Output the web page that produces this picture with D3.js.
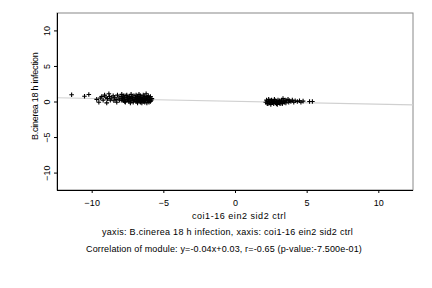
<!DOCTYPE html>
<html>
<head>
<meta charset="utf-8">
<script src="https://cdn.jsdelivr.net/npm/d3@7"></script>
<style>
  body { margin: 0; background: #fff; }
  svg { display: block; font-family: "Liberation Sans", Arial, sans-serif; letter-spacing: 0.15px; }
  .tick text { font-size: 9px; }
</style>
</head>
<body>
<script>
// left cluster (x values / y values)
const leftX = [-11.4, -10.5, -10.2,
  -9.65, -9.5, -9.4, -9.3, -9.2, -9.1, -9.0, -8.95, -8.9, -8.8, -8.75, -8.7, -8.6, -8.5, -8.45, -8.4, -8.3, -8.25, -8.2, -8.1, -8.05,
  -7.95, -7.9, -7.85, -7.8, -7.75, -7.7, -7.65, -7.6, -7.55, -7.5, -7.45, -7.4, -7.35, -7.3, -7.25, -7.2, -7.15, -7.1, -7.05, -7.0,
  -7.9, -7.8, -7.7, -7.6, -7.5, -7.4, -7.3, -7.2, -7.1,
  -6.95, -6.9, -6.9, -6.85, -6.8, -6.8, -6.75, -6.7, -6.7, -6.65, -6.6, -6.6, -6.55, -6.5, -6.5, -6.45, -6.4, -6.4, -6.35, -6.3, -6.3,
  -6.25, -6.2, -6.2, -6.15, -6.1, -6.1, -6.05, -6.0, -6.0, -5.95, -5.9, -5.9, -5.85, -5.8,
  -6.9, -6.7, -6.5, -6.3, -6.1, -5.95, -6.8, -6.6, -6.4, -6.2, -6.0];
const leftY = [0.94, 0.74, 0.98,
  0.3, -0.1, 0.5, 0.7, 0.2, 0.9, 0.6, -0.2, 0.4, 1.1, 0.7, 0.2, 0.5, 0.8, 0.1, 0.6, 0.3, -0.1, 0.9, 0.5, 0.2,
  0.7, 1.0, 0.4, 0.1, 0.8, 0.5, -0.1, 0.3, 0.9, 0.6, 0.2, 0.0, 0.7, 0.4, 1.0, 0.1, 0.5, -0.1, 0.8, 0.3,
  0.2, 0.6, 0.0, 0.8, 0.3, 0.5, -0.2, 0.6, 0.2,
  0.6, 0.0, 0.9, 0.3, -0.2, 0.7, 0.4, 0.1, 1.0, 0.5, -0.1, 0.8, 0.2, 0.6, -0.2, 0.3, 0.9, 0.0, 0.5, -0.1, 0.7,
  0.2, 0.4, 1.1, -0.2, 0.6, 0.1, 0.8, 0.3, -0.1, 0.5, 0.0, 0.7, 0.2, 0.4,
  0.1, 0.3, 0.4, 0.2, 0.3, 0.1, 0.5, 0.0, 0.2, 0.5, 0.1];

// right cluster
const rightX = [2.15, 2.2, 2.25, 2.3, 2.35, 2.4, 2.45, 2.5, 2.55, 2.6, 2.65, 2.7, 2.75, 2.8, 2.85, 2.9, 2.95, 3.0, 3.05, 3.1,
  3.15, 3.2, 3.25, 3.3, 3.35, 3.4, 3.45, 3.5, 3.55, 3.6, 3.7, 3.75, 3.8, 3.9, 4.0, 4.1, 4.2, 4.35, 4.5, 4.6, 4.75, 5.2, 5.4,
  2.3, 2.5, 2.7, 2.9, 3.1, 3.3];
const rightY = [-0.1, 0.2, -0.3, 0.0, 0.3, -0.2, 0.1, -0.4, 0.2, -0.1, 0.0, -0.3, 0.3, 0.1, -0.2, 0.0, -0.4, 0.2, -0.1, 0.1,
  -0.3, 0.0, 0.2, -0.2, 0.4, 0.0, -0.1, 0.2, -0.2, 0.1, 0.3, -0.1, 0.1, 0.0, 0.2, -0.1, 0.1, 0.0, 0.1, -0.1, 0.05, 0.0, 0.0,
  -0.3, -0.2, -0.1, -0.3, -0.2, -0.3];

const xTicks = [-10, -5, 0, 5, 10];
const yTicks = [-10, -5, 0, 5, 10];
const slope = -0.04, intercept = 0.03;
const xTitle = "coi1-16 ein2 sid2 ctrl";
const yTitle = "B.cinerea 18 h infection";
const sub1 = "yaxis: B.cinerea 18 h infection, xaxis: coi1-16 ein2 sid2 ctrl";
const sub2 = "Correlation of module: y=-0.04x+0.03, r=-0.65 (p-value:-7.500e-01)";

const W = 432, H = 288;
const box = {left: 57, right: 413, top: 13, bottom: 190};

const x = d3.scaleLinear().domain([-12.42, 12.42]).range([box.left, box.right]);
const y = d3.scaleLinear().domain([-12.45, 12.45]).range([box.bottom, box.top]);

const svg = d3.select("body").append("svg").attr("width", W).attr("height", H);

// frame
svg.append("rect")
  .attr("x", box.left).attr("y", box.top)
  .attr("width", box.right - box.left).attr("height", box.bottom - box.top)
  .attr("fill", "none").attr("stroke", "#888").attr("stroke-width", 1);

// regression line
svg.append("line")
  .attr("x1", x(-12.42)).attr("y1", y(slope * -12.42 + intercept))
  .attr("x2", x(12.42)).attr("y2", y(slope * 12.42 + intercept))
  .attr("stroke", "#d0d0d0").attr("stroke-width", 1.2);

// points
const pts = leftX.map((v, i) => [v, leftY[i]]).concat(rightX.map((v, i) => [v, rightY[i]]));
svg.append("g").selectAll("path")
  .data(pts).enter()
  .append("path")
  .attr("d", d => {
    const cx = x(d[0]), cy = y(d[1]);
    return `M${cx - 2.3},${cy}H${cx + 2.3}M${cx},${cy - 2.3}V${cy + 2.3}`;
  })
  .attr("stroke", "#000").attr("stroke-width", 1.1);

// axes
const xAxis = svg.append("g")
  .attr("transform", "translate(0," + box.bottom + ")")
  .call(d3.axisBottom(x).tickValues(xTicks).tickSize(3).tickSizeOuter(0).tickPadding(7));
xAxis.select(".domain").attr("d", `M${box.left},0.5H${box.right}`);

const yAxis = svg.append("g")
  .attr("transform", "translate(" + box.left + ",0)")
  .call(d3.axisLeft(y).tickValues(yTicks).tickSize(3).tickSizeOuter(0));
yAxis.select(".domain").attr("d", `M0.5,${box.top}V${box.bottom}`);
yAxis.selectAll(".tick text")
  .attr("x", null).attr("dy", null)
  .attr("transform", "translate(-7,0) rotate(-90)")
  .attr("text-anchor", "middle");

// titles
svg.append("text").attr("x", 192).attr("y", 219)
  .attr("font-size", 9).attr("textLength", 94).attr("lengthAdjust", "spacing").text(xTitle);
svg.append("text").attr("transform", "translate(38,96) rotate(-90)")
  .attr("text-anchor", "middle").attr("font-size", 9)
  .attr("textLength", 88).attr("lengthAdjust", "spacing").text(yTitle);
svg.append("text").attr("x", 102).attr("y", 235)
  .attr("font-size", 9).attr("textLength", 251).attr("lengthAdjust", "spacing").text(sub1);
svg.append("text").attr("x", 86).attr("y", 252)
  .attr("font-size", 9).attr("textLength", 276).attr("lengthAdjust", "spacing").text(sub2);
</script>
</body>
</html>
